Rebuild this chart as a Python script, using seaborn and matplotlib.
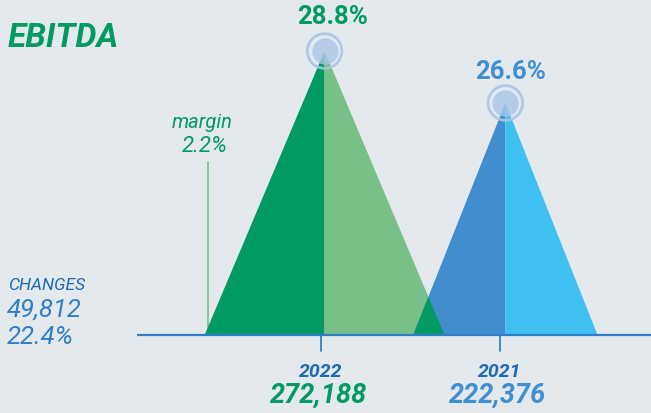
import numpy as np
import matplotlib
matplotlib.use("Agg")
import matplotlib.pyplot as plt
import seaborn as sns

# Data
years = ["2022", "2021"]
ebitda = [272188, 222376]
margin_pct = ["28.8%", "26.6%"]
peak_x = [0.02, 1.03]          # centre of each peak, in category units
half_width = [0.67, 0.515]     # half base width of each peak
change_abs = "49,812"
change_pct = "22.4%"
margin_change = "2.2%"

# Colours
BG = "#e4e9ee"
GREEN_DARK = "#009a62"
GREEN_LIGHT = "#78c087"
BLUE_DARK = "#428dcd"
BLUE_LIGHT = "#3fc0f0"
AXIS_BLUE = "#2f7fc8"
LABEL_BLUE = "#1d69b4"
NUM_BLUE = "#3f8fd2"
HALO = "#a8c5e7"

sns.set_theme(style="white")
plt.rcParams["font.family"] = ["Roboto", "DejaVu Sans"]

W, H = 651, 414
fig = plt.figure(figsize=(W / 100, H / 100), dpi=100)
fig.patch.set_facecolor(BG)
ax = fig.add_axes([0, 0, 1, 1])
ax.set_facecolor(BG)

# pixel layout: tick 0 at x=321px, tick 1 at x=500px, baseline y=336px
px_per_cat = 179
x0_px = 321
base_px = 336
unit_per_px = ebitda[0] / 284
ax.set_xlim((0 - x0_px) / px_per_cat, (W - x0_px) / px_per_cat)
ax.set_ylim(-(H - base_px) * unit_per_px, base_px * unit_per_px)
ax.axis("off")

# Peaks: left half dark, right half light
cols = [(GREEN_DARK, GREEN_LIGHT), (BLUE_DARK, BLUE_LIGHT)]
for i in range(2):
    c, w, h = peak_x[i], half_width[i], ebitda[i]
    ax.fill([c - w, c, c], [0, h, 0], color=cols[i][0], lw=0, zorder=2)
    ax.fill([c, c, c + w], [0, h, 0], color=cols[i][1], lw=0, zorder=2 + i)

# Overlap of the two peaks shown in dark green
c1, w1, h1 = peak_x[0], half_width[0], ebitda[0]
c2, w2, h2 = peak_x[1], half_width[1], ebitda[1]
a1 = -h1 / w1
b1 = h1 - a1 * c1
a2 = h2 / w2
b2 = -a2 * (c2 - w2)
xi = (b2 - b1) / (a1 - a2)
yi = a1 * xi + b1
ax.fill([c2 - w2, xi, c1 + w1], [0, yi, 0], color=GREEN_DARK, lw=0, zorder=5)

# Halo circles at the peaks
ax.scatter(peak_x, ebitda, s=360, color=HALO, alpha=0.8, lw=0, zorder=6)
ax.scatter(peak_x, ebitda, s=620, facecolor="none", edgecolor=HALO,
           lw=2.0, alpha=0.9, zorder=6)

# Baseline and ticks
ax.plot([(137 - x0_px) / px_per_cat, (W - x0_px) / px_per_cat], [0, 0],
        color=AXIS_BLUE, lw=1.6, zorder=7, solid_capstyle="butt")
for i in range(2):
    ax.plot([i, i], [0, -16 * unit_per_px], color=AXIS_BLUE, lw=1.3, zorder=7)

# Margin marker line
ax.plot([-0.63, -0.63], [0, (base_px - 163) * unit_per_px],
        color=GREEN_LIGHT, lw=1.2, zorder=1)


def ftext(x, y, s, **kw):
    fig.text(x / W, 1 - y / H, s, **kw)


ftext(8, 38, "EBITDA", color=GREEN_DARK, fontsize=24, weight="bold",
      style="italic", ha="left", va="center")
ftext(333, 17, margin_pct[0], color=GREEN_DARK, fontsize=18.5, weight="bold",
      ha="center", va="center")
ftext(511, 72, margin_pct[1], color=NUM_BLUE, fontsize=18.5, weight="bold",
      ha="center", va="center")
ftext(202, 122, "margin", color=GREEN_DARK, fontsize=14.5, style="italic",
      ha="center", va="center")
ftext(205, 147, margin_change, color=GREEN_DARK, fontsize=16, style="italic",
      ha="center", va="center")
ftext(8, 286, "CHANGES", color=LABEL_BLUE, fontsize=12.5, style="italic",
      ha="left", va="center")
ftext(7, 310, change_abs, color=AXIS_BLUE, fontsize=18.5, style="italic",
      ha="left", va="center")
ftext(7, 337, change_pct, color=AXIS_BLUE, fontsize=18.5, style="italic",
      ha="left", va="center")

num_cols = [GREEN_DARK, NUM_BLUE]
for i in range(2):
    cx = x0_px + i * px_per_cat
    ftext(cx, 372, years[i], color=LABEL_BLUE, fontsize=14, weight="bold",
          style="italic", ha="center", va="center")
    ftext(cx - 2, 395, f"{ebitda[i]:,}", color=num_cols[i], fontsize=19.5,
          weight="bold", style="italic", ha="center", va="center")

fig.savefig("out.png", dpi=100, facecolor=BG)
